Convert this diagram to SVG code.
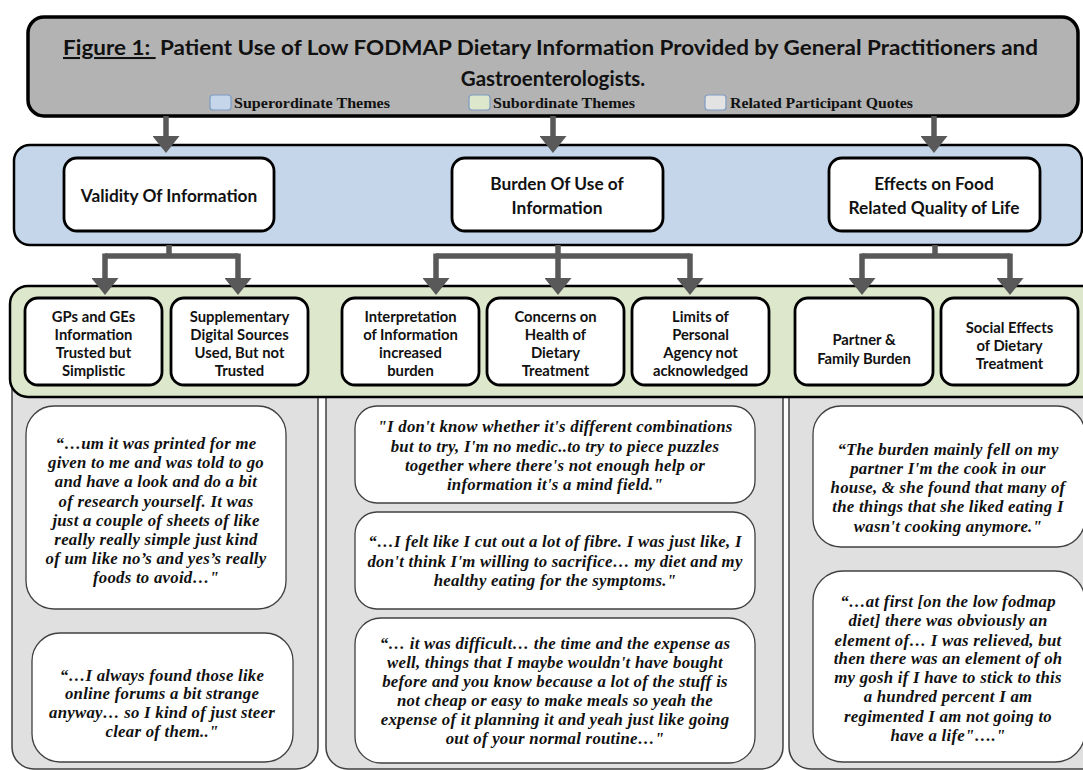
<svg xmlns="http://www.w3.org/2000/svg" width="1083" height="770" viewBox="0 0 1083 770">
<defs>
<marker id="ah" markerUnits="userSpaceOnUse" markerWidth="17" markerHeight="27" refX="0" refY="13.5" orient="auto">
<path d="M0,0 L17,13.5 L0,27 z" fill="#595959"/>
</marker>
<style>
.title{font-family:Lato,"Liberation Sans",sans-serif;font-weight:bold;font-size:20.5px;fill:#111;}
.leg{font-family:"Liberation Serif",serif;font-weight:bold;font-size:14px;fill:#111;}
.sup{font-family:Lato,"Liberation Sans",sans-serif;font-weight:bold;font-size:17.3px;fill:#111;text-anchor:middle;}
.sub{font-family:Lato,"Liberation Sans",sans-serif;font-weight:bold;font-size:14.8px;fill:#111;text-anchor:middle;}
.q{font-family:"Liberation Serif",serif;font-weight:bold;font-style:italic;font-size:16.8px;letter-spacing:0.25px;fill:#111;text-anchor:middle;}
.panel{stroke:#000;stroke-width:2.5;}
.box{fill:#fff;stroke:#000;stroke-width:2.8;}
.gray{fill:#e0e0e0;stroke:#404040;stroke-width:1.5;}
.qbox{fill:#fff;stroke:#404040;stroke-width:1.3;}
.conn{stroke:#595959;stroke-width:5.5;fill:none;}
.sq{stroke:#7f9cc4;stroke-width:1.2;}
</style>
</defs>

<g id="quote-panels">
<rect class="gray" x="12" y="360" width="306" height="409" rx="22"/>
<rect class="gray" x="326" y="360" width="457" height="409" rx="22"/>
<rect class="gray" x="789" y="360" width="320" height="409" rx="22"/>
</g>

<g id="subordinate-panel">
<rect class="panel" x="10" y="286" width="1100" height="111" rx="18" fill="#dde7cb"/>
</g>

<g id="superordinate-panel">
<rect class="panel" x="14" y="145" width="1068" height="100" rx="16" fill="#c5d6ea"/>
</g>

<g id="title">
<rect x="28" y="17" width="1050" height="99" rx="16" fill="#b3b3b3" stroke="#000" stroke-width="3.5"/>
<text class="title" x="63" y="55" textLength="975" lengthAdjust="spacingAndGlyphs"><tspan text-decoration="underline">Figure 1: </tspan><tspan dx="4">Patient Use of Low FODMAP Dietary Information Provided by General Practitioners and</tspan></text>
<text class="title" x="553" y="86" text-anchor="middle">Gastroenterologists.</text>
</g>

<g id="legend">
<rect class="sq" x="210" y="95" width="21" height="15" rx="3" fill="#c5d6ea"/>
<text class="leg" x="234" y="108" textLength="156" lengthAdjust="spacingAndGlyphs">Superordinate Themes</text>
<rect class="sq" x="469" y="95" width="21" height="15" rx="3" fill="#dde7cb"/>
<text class="leg" x="493" y="108" textLength="142" lengthAdjust="spacingAndGlyphs">Subordinate Themes</text>
<rect class="sq" x="705" y="95" width="21" height="15" rx="3" fill="#e3e3e3"/>
<text class="leg" x="730" y="108" textLength="183" lengthAdjust="spacingAndGlyphs">Related Participant Quotes</text>
</g>

<g id="sup-validity">
<rect class="box" x="64" y="158" width="210" height="73" rx="13"/>
<text class="sup" x="169" y="202">Validity Of Information</text>
</g>
<g id="sup-burden">
<rect class="box" x="452" y="158" width="211" height="73" rx="13"/>
<text class="sup" x="557" y="190">Burden Of Use of</text>
<text class="sup" x="557" y="214">Information</text>
</g>
<g id="sup-effects">
<rect class="box" x="829" y="158" width="211" height="73" rx="13"/>
<text class="sup" x="934" y="190">Effects on Food</text>
<text class="sup" x="934" y="214">Related Quality of Life</text>
</g>

<g id="sub-gps">
<rect class="box" x="25" y="298" width="137" height="87" rx="13"/>
<text class="sub" x="93.5" y="322">GPs and GEs</text>
<text class="sub" x="93.5" y="340">Information</text>
<text class="sub" x="93.5" y="358">Trusted but</text>
<text class="sub" x="93.5" y="376">Simplistic</text>
</g>
<g id="sub-supplementary">
<rect class="box" x="171" y="298" width="137" height="87" rx="13"/>
<text class="sub" x="239.5" y="322">Supplementary</text>
<text class="sub" x="239.5" y="340">Digital Sources</text>
<text class="sub" x="239.5" y="358">Used, But not</text>
<text class="sub" x="239.5" y="376">Trusted</text>
</g>
<g id="sub-interpretation">
<rect class="box" x="342" y="298" width="137" height="87" rx="13"/>
<text class="sub" x="410.5" y="322">Interpretation</text>
<text class="sub" x="410.5" y="340">of Information</text>
<text class="sub" x="410.5" y="358">increased</text>
<text class="sub" x="410.5" y="376">burden</text>
</g>
<g id="sub-concerns">
<rect class="box" x="487" y="298" width="137" height="87" rx="13"/>
<text class="sub" x="555.5" y="322">Concerns on</text>
<text class="sub" x="555.5" y="340">Health of</text>
<text class="sub" x="555.5" y="358">Dietary</text>
<text class="sub" x="555.5" y="376">Treatment</text>
</g>
<g id="sub-limits">
<rect class="box" x="632" y="298" width="137" height="87" rx="13"/>
<text class="sub" x="700.5" y="322">Limits of</text>
<text class="sub" x="700.5" y="340">Personal</text>
<text class="sub" x="700.5" y="358">Agency not</text>
<text class="sub" x="700.5" y="376">acknowledged</text>
</g>
<g id="sub-partner">
<rect class="box" x="795" y="298" width="138" height="87" rx="13"/>
<text class="sub" x="864" y="345">Partner &amp;</text>
<text class="sub" x="864" y="364">Family Burden</text>
</g>
<g id="sub-social">
<rect class="box" x="941" y="298" width="137" height="87" rx="13"/>
<text class="sub" x="1009.5" y="333">Social Effects</text>
<text class="sub" x="1009.5" y="351">of Dietary</text>
<text class="sub" x="1009.5" y="369">Treatment</text>
</g>

<g id="quote-1">
<rect class="qbox" x="26" y="406" width="260" height="203" rx="28"/>
<text class="q" x="156" y="449">“…um it was printed for me</text>
<text class="q" x="156" y="468">given to me and was told to go</text>
<text class="q" x="156" y="487">and have a look and do a bit</text>
<text class="q" x="156" y="507">of research yourself. It was</text>
<text class="q" x="156" y="526">just a couple of sheets of like</text>
<text class="q" x="156" y="545">really really simple just kind</text>
<text class="q" x="156" y="564">of um like no’s and yes’s really</text>
<text class="q" x="156" y="583">foods to avoid…"</text>
</g>
<g id="quote-2">
<rect class="qbox" x="32" y="633" width="261" height="129" rx="28"/>
<text class="q" x="162" y="681">“…I always found those like</text>
<text class="q" x="162" y="699">online forums a bit strange</text>
<text class="q" x="162" y="718">anyway… so I kind of just steer</text>
<text class="q" x="162" y="737">clear of them.."</text>
</g>
<g id="quote-3">
<rect class="qbox" x="355" y="406" width="400" height="97" rx="22"/>
<text class="q" x="555" y="432">"I don't know whether it's different combinations</text>
<text class="q" x="555" y="452">but to try, I'm no medic..to try to piece puzzles</text>
<text class="q" x="555" y="471">together where there's not enough help or</text>
<text class="q" x="555" y="490">information it's a mind field."</text>
</g>
<g id="quote-4">
<rect class="qbox" x="355" y="512" width="400" height="97" rx="22"/>
<text class="q" x="555" y="547">“…I felt like I cut out a lot of fibre. I was just like, I</text>
<text class="q" x="555" y="567">don't think I'm willing to sacrifice… my diet and my</text>
<text class="q" x="555" y="586">healthy eating for the symptoms."</text>
</g>
<g id="quote-5">
<rect class="qbox" x="355" y="618" width="400" height="145" rx="26"/>
<text class="q" x="555" y="649">“… it was difficult… the time and the expense as</text>
<text class="q" x="555" y="668">well, things that I maybe wouldn't have bought</text>
<text class="q" x="555" y="687">before and you know because a lot of the stuff is</text>
<text class="q" x="555" y="706">not cheap or easy to make meals so yeah the</text>
<text class="q" x="555" y="725">expense of it planning it and yeah just like going</text>
<text class="q" x="555" y="744">out of your normal routine…"</text>
</g>
<g id="quote-6">
<rect class="qbox" x="813" y="406" width="272" height="141" rx="28"/>
<text class="q" x="948" y="455">“The burden mainly fell on my</text>
<text class="q" x="948" y="474">partner I'm the cook in our</text>
<text class="q" x="948" y="493">house, &amp; she found that many of</text>
<text class="q" x="948" y="512">the things that she liked eating I</text>
<text class="q" x="948" y="532">wasn't cooking anymore."</text>
</g>
<g id="quote-7">
<rect class="qbox" x="813" y="571" width="272" height="191" rx="30"/>
<text class="q" x="948" y="607">“…at first [on the low fodmap</text>
<text class="q" x="948" y="626">diet] there was obviously an</text>
<text class="q" x="948" y="646">element of… I was relieved, but</text>
<text class="q" x="948" y="664">then there was an element of oh</text>
<text class="q" x="948" y="683">my gosh if I have to stick to this</text>
<text class="q" x="948" y="702">a hundred percent I am</text>
<text class="q" x="948" y="722">regimented I am not going to</text>
<text class="q" x="948" y="741">have a life"…."</text>
</g>

<g id="connectors">
<path class="conn" d="M166,116 V136" marker-end="url(#ah)"/>
<path class="conn" d="M553,116 V136" marker-end="url(#ah)"/>
<path class="conn" d="M934,116 V136" marker-end="url(#ah)"/>
<path class="conn" d="M169,245 V256"/>
<path class="conn" d="M105,256 H238"/>
<path class="conn" d="M105,253.5 V278" marker-end="url(#ah)"/>
<path class="conn" d="M238,253.5 V278" marker-end="url(#ah)"/>
<path class="conn" d="M558,245 V278" marker-end="url(#ah)"/>
<path class="conn" d="M436,256 H690"/>
<path class="conn" d="M436,253.5 V278" marker-end="url(#ah)"/>
<path class="conn" d="M690,253.5 V278" marker-end="url(#ah)"/>
<path class="conn" d="M935,245 V256"/>
<path class="conn" d="M862,256 H1010"/>
<path class="conn" d="M862,253.5 V278" marker-end="url(#ah)"/>
<path class="conn" d="M1010,253.5 V278" marker-end="url(#ah)"/>
</g>
</svg>
